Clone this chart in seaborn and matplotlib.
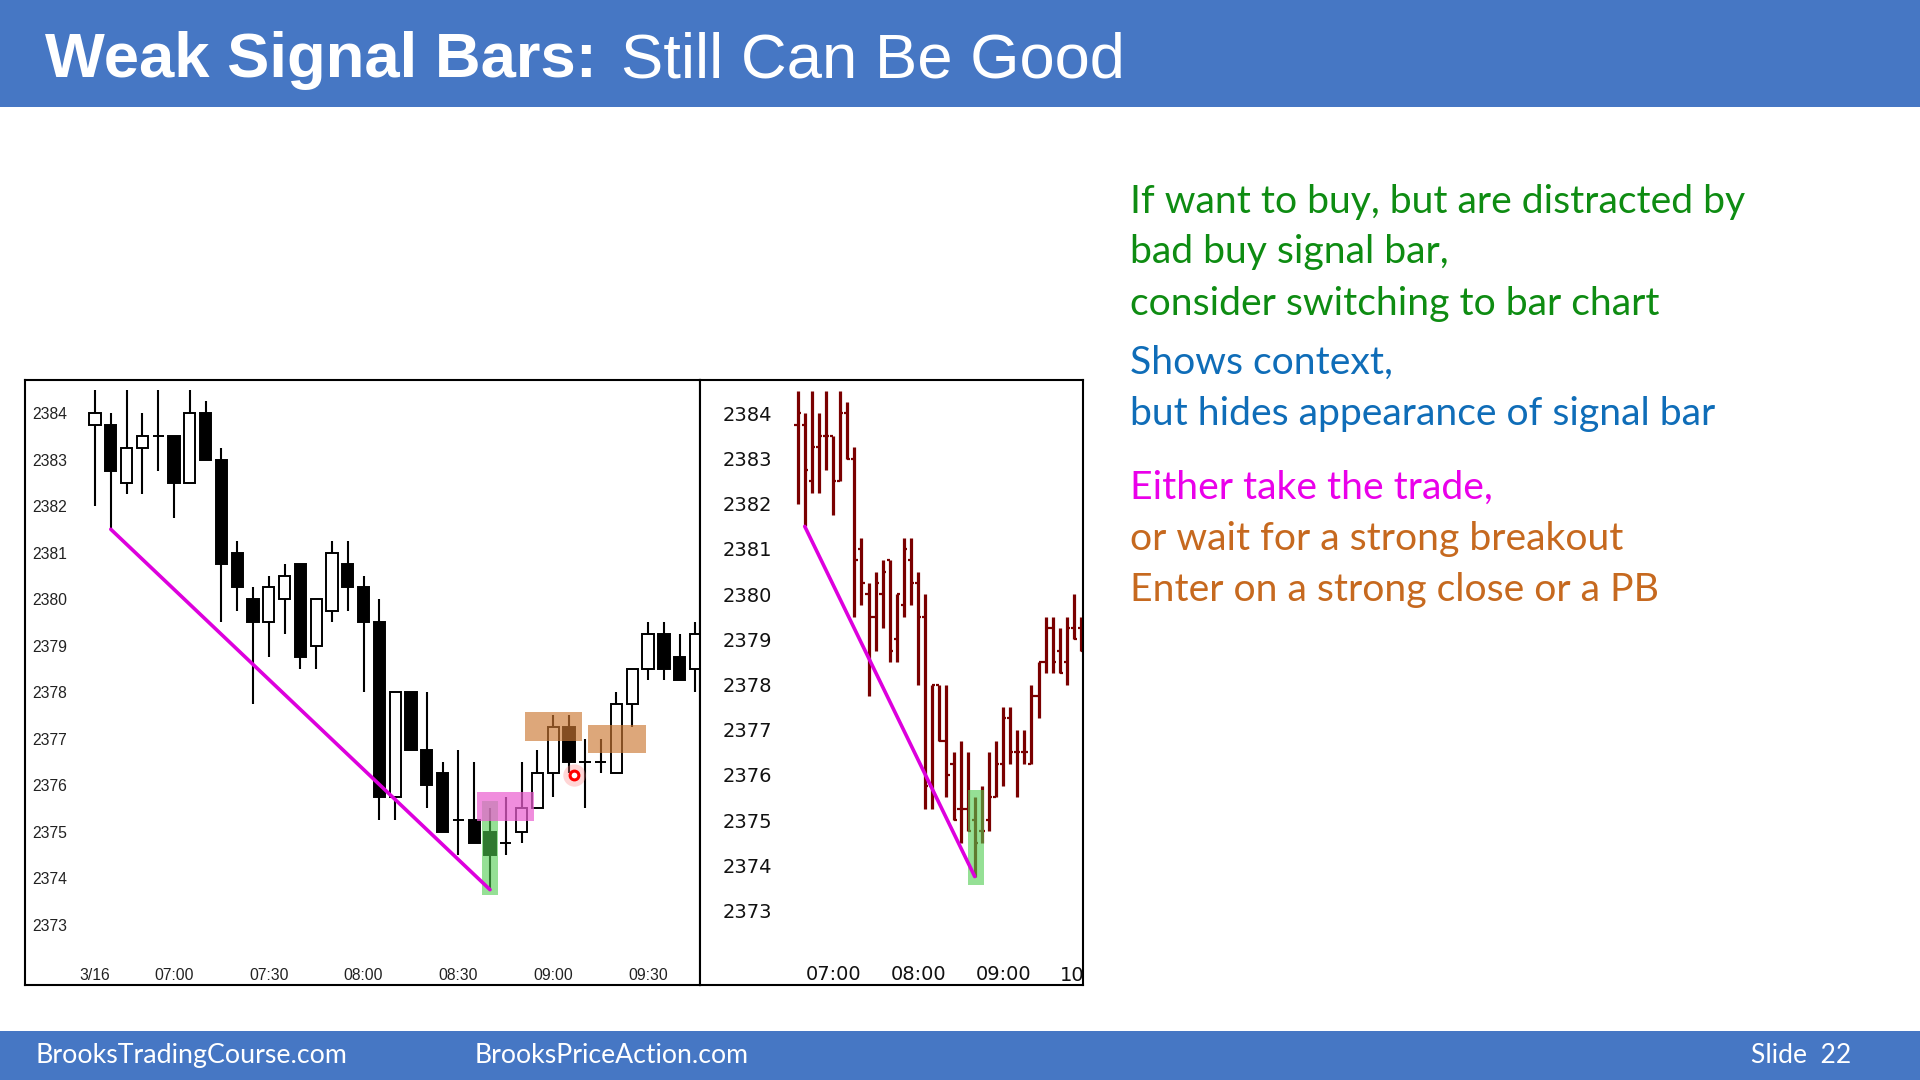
import numpy as np
import pandas as pd
import matplotlib
matplotlib.use("Agg")
import matplotlib.pyplot as plt
from matplotlib.patches import Rectangle
import seaborn as sns

# 5 minute bars of 3/16, first bar 06:35
bar_open = [2383.75, 2383.75, 2382.5, 2383.25, 2383.5, 2383.5, 2382.5, 2384.0, 2383.0, 2381.0,
            2380.0, 2379.5, 2380.0, 2380.75, 2379.0, 2379.75, 2380.75, 2380.25, 2379.5, 2375.75,
            2378.0, 2376.75, 2376.25, 2375.25, 2375.25, 2375.0, 2374.75, 2375.0, 2375.5, 2376.25,
            2377.25, 2376.5, 2376.5, 2376.25, 2377.75, 2378.5, 2379.25, 2378.75, 2378.5, 2379.25,
            2379.25]
bar_high = [2384.5, 2384.0, 2384.5, 2384.0, 2384.5, 2383.5, 2384.5, 2384.25, 2383.25, 2381.25,
            2380.25, 2380.5, 2380.75, 2380.75, 2380.0, 2381.25, 2381.25, 2380.5, 2380.0, 2378.0,
            2378.0, 2378.0, 2376.5, 2376.75, 2376.5, 2375.5, 2375.75, 2376.5, 2376.75, 2377.5,
            2377.5, 2377.0, 2377.0, 2378.0, 2378.5, 2379.5, 2379.5, 2379.25, 2379.5, 2380.0,
            2379.5]
bar_low = [2382.0, 2381.5, 2382.25, 2382.25, 2382.75, 2381.75, 2382.5, 2383.0, 2379.5, 2379.75,
           2377.75, 2378.75, 2379.25, 2378.5, 2378.5, 2379.5, 2379.75, 2378.0, 2375.25, 2375.25,
           2376.75, 2375.5, 2375.0, 2374.5, 2374.75, 2373.75, 2374.5, 2374.75, 2375.5, 2375.75,
           2376.25, 2375.5, 2376.25, 2376.25, 2377.25, 2378.25, 2378.25, 2378.25, 2378.0, 2379.0,
           2378.75]
bar_close = [2384.0, 2382.75, 2383.25, 2383.5, 2383.5, 2382.5, 2384.0, 2383.0, 2380.75, 2380.25,
             2379.5, 2380.25, 2380.5, 2378.75, 2380.0, 2381.0, 2380.25, 2379.5, 2375.75, 2378.0,
             2376.75, 2376.0, 2375.0, 2375.25, 2374.75, 2374.5, 2374.75, 2375.5, 2376.25, 2377.25,
             2376.5, 2376.5, 2376.5, 2377.75, 2378.5, 2379.25, 2378.5, 2378.25, 2379.25, 2379.0,
             2378.75]

price_ticks = list(range(2373, 2385))
left_xticks = [0, 5, 11, 17, 23, 29, 35]
left_xlabels = ["3/16", "07:00", "07:30", "08:00", "08:30", "09:00", "09:30"]
right_xticks = [5, 17, 29, 41]
right_xlabels = ["07:00", "08:00", "09:00", "10:00"]

# trend line from bar 1 low to signal bar low
trend_x = [1, 25]
trend_y = [2381.5, 2373.75]

text_lines = [
    "If want to buy, but are distracted by",
    "bad buy signal bar,",
    "consider switching to bar chart",
    "Shows context,",
    "but hides appearance of signal bar",
    "Either take the trade,",
    "or wait for a strong breakout",
    "Enter on a strong close or a PB",
]

bars = pd.DataFrame({"open": bar_open, "high": bar_high, "low": bar_low, "close": bar_close})
bars["idx"] = np.arange(len(bars))

sns.set_theme(style="white")
plt.rcParams["font.family"] = ["Liberation Sans", "DejaVu Sans"]

W, H = 1920, 1080
fig = plt.figure(figsize=(W / 100, H / 100), dpi=100)
fig.patch.set_facecolor("white")
renderer = fig.canvas.get_renderer()


def fx(px):
    return px / W


def fy(py):
    return 1 - py / H


BLUE = "#4677C4"
GREEN = "#0E8C12"
TBLUE = "#0F6DB8"
MAGENTA = "#EA00EA"
ORANGE = "#C6691F"
MAROON = "#7A0000"
PINK_LINE = "#DD00DD"

# title and footer bands
fig.add_artist(Rectangle((0, fy(107)), 1, 107 / H, transform=fig.transFigure,
                         color=BLUE, lw=0, zorder=0))
fig.add_artist(Rectangle((0, 0), 1, 49 / H, transform=fig.transFigure,
                         color=BLUE, lw=0, zorder=0))
fig.text(fx(45), fy(77), "Weak Signal Bars:", fontsize=45.6, fontweight="bold",
         color="white", va="baseline")
fig.text(fx(621), fy(77), "Still Can Be Good", fontsize=45.6, color="white", va="baseline")

footer = [("BrooksTradingCourse.com", 35, 311), ("BrooksPriceAction.com", 475, 273),
          ("Slide  22", 1751, 100)]
for s, x, wpx in footer:
    t = fig.text(fx(x), fy(1063), s, fontsize=18, color="white", va="baseline",
                 family=["Lato", "DejaVu Sans"])
    t.set_fontsize(18 * wpx / t.get_window_extent(renderer).width)

# right hand notes
colors = [GREEN, GREEN, GREEN, TBLUE, TBLUE, MAGENTA, ORANGE, ORANGE]
baselines = [213, 263, 315, 374, 425, 499, 550, 601]
notes = []
for s, c, b in zip(text_lines, colors, baselines):
    notes.append(fig.text(fx(1130), fy(b), s, fontsize=28, color=c, va="baseline",
                          family=["Lato", "DejaVu Sans"]))
size = 28 * 615 / notes[0].get_window_extent(renderer).width
for t in notes:
    t.set_fontsize(size)

# ---- left: candle chart ----
ax1 = fig.add_axes([fx(25), fy(985), (700 - 25) / W, (985 - 380) / H])
up = bars.close >= bars.open
ax1.vlines(bars.idx, bars.low, bars.high, color="black", lw=1.5, zorder=2)
ax1.bar(bars.idx, (bars.close - bars.open).abs(), bottom=np.minimum(bars.open, bars.close),
        width=0.72, color=np.where(up, "white", "black"), edgecolor="black", lw=1.4, zorder=3)
sns.lineplot(x=trend_x, y=trend_y, ax=ax1, color=PINK_LINE, lw=2.6, zorder=6)

ax1.add_patch(Rectangle((24.51, 2373.63), 0.98, 2.03, color=(0.31, 0.8, 0.31), alpha=0.6, lw=0, zorder=5))
ax1.add_patch(Rectangle((24.2, 2375.23), 3.6, 0.61, color=(0.92, 0.38, 0.82), alpha=0.72, lw=0, zorder=5))
ax1.add_patch(Rectangle((27.2, 2376.95), 3.6, 0.61, color=(0.80, 0.47, 0.2), alpha=0.65, lw=0, zorder=5))
ax1.add_patch(Rectangle((31.2, 2376.69), 3.67, 0.6, color=(0.80, 0.47, 0.2), alpha=0.65, lw=0, zorder=5))
ax1.scatter([30.3], [2376.21], s=260, color=(1, 0.55, 0.55), alpha=0.35, lw=0, zorder=7)
ax1.scatter([30.3], [2376.21], s=40, facecolor="white", edgecolor="red", lw=2.2, zorder=8)

ax1.set_xlim(-4.43, 38.29)
ax1.set_ylim(2371.70, 2384.71)
ax1.set_yticks(price_ticks)
ax1.set_yticklabels([str(p) for p in price_ticks], ha="left")
ax1.tick_params(axis="y", length=0, pad=-5, labelsize=11.3, labelcolor="#222222")
ax1.set_xticks(left_xticks)
ax1.set_xticklabels(left_xlabels, va="center")
ax1.tick_params(axis="x", length=0, pad=-6.5, labelsize=11.3, labelcolor="#222222")
ax1.set_xlabel("")
ax1.set_ylabel("")

# ---- right: bar chart ----
ax2 = fig.add_axes([fx(700), fy(985), (1083 - 700) / W, (985 - 380) / H])
ax2.vlines(bars.idx, bars.low, bars.high, color=MAROON, lw=2.3, zorder=2)
ax2.hlines(bars.open, bars.idx - 0.45, bars.idx, color=MAROON, lw=1.6, zorder=2)
ax2.hlines(bars.close, bars.idx, bars.idx + 0.45, color=MAROON, lw=1.6, zorder=2)
sns.lineplot(x=trend_x, y=trend_y, ax=ax2, color=PINK_LINE, lw=2.6, zorder=6)
ax2.add_patch(Rectangle((24.05, 2373.57), 2.25, 2.1, color=(0.31, 0.8, 0.31), alpha=0.6, lw=0, zorder=5))

ax2.set_xlim(-13.79, 40.28)
ax2.set_ylim(2371.35, 2384.74)
ax2.set_yticks(price_ticks)
ax2.set_yticklabels([str(p) for p in price_ticks], ha="left", family=["DejaVu Sans"])
ax2.tick_params(axis="y", length=0, pad=-16, labelsize=14, labelcolor="#111111")
ax2.set_xticks(right_xticks[:3])
ax2.set_xticklabels(right_xlabels[:3], va="center", family=["DejaVu Sans"])
ax2.tick_params(axis="x", length=0, pad=-7.5, labelsize=14, labelcolor="#111111")
# last hour label is cut by the frame
ax2.text(right_xticks[3], 2371.35 + 10 / 45.2, right_xlabels[3], ha="center", va="center",
         fontsize=14, family=["DejaVu Sans"], color="#111111", clip_on=True)
ax2.set_xlabel("")
ax2.set_ylabel("")

for ax in (ax1, ax2):
    ax.set_facecolor("white")
    for sp in ax.spines.values():
        sp.set_color("black")
        sp.set_linewidth(1.5)
        sp.set_visible(True)

fig.savefig("out.png", dpi=100, facecolor="white")
